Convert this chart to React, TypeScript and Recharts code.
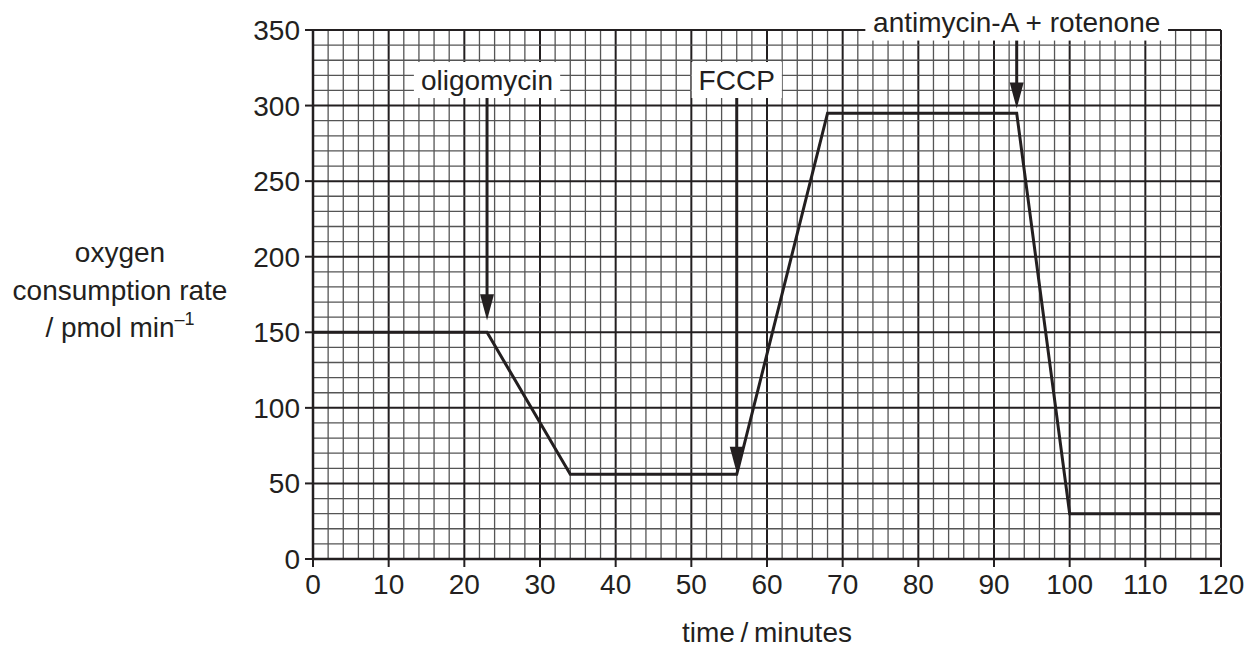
import React from "react";
import { LineChart, Line, XAxis, YAxis, ReferenceLine } from "recharts";

// trace
const time = [0, 23, 34, 56, 68, 93, 100, 120];
const rate = [150, 150, 56, 56, 295, 295, 30, 30];

const xTicks = [0, 10, 20, 30, 40, 50, 60, 70, 80, 90, 100, 110, 120];
const yTicks = [0, 50, 100, 150, 200, 250, 300, 350];

// injections (arrows)
const arrowLabels = ["oligomycin", "FCCP", "antimycin-A + rotenone"];
const arrowTimes = [23, 56, 93];
const arrowFrom = [305, 305, 343];
const arrowTo = [158, 57, 298];

const FONT = "'Liberation Sans', Arial, sans-serif";
const FS = 28;
const INK = "#231f20";

const data = time.map((t, i) => ({ t, rate: rate[i] }));
const minorX = Array.from({ length: 61 }, (_, i) => i * 2);
const minorY = Array.from({ length: 36 }, (_, i) => i * 10);

let ctx: CanvasRenderingContext2D | null = null;
function textWidth(s: string) {
  if (!ctx) ctx = document.createElement("canvas").getContext("2d");
  if (!ctx) return s.length * FS * 0.55;
  ctx.font = `${FS}px 'Liberation Sans', Arial, sans-serif`;
  return ctx.measureText(s).width;
}

const arrowShape = (label: string) => (props: any) => {
  const { x1, y1, y2 } = props;
  const w = textWidth(label) + 14;
  return (
    <g>
      <rect x={x1 - w / 2} y={y1 - 36} width={w} height={36} fill="#fff" />
      <text x={x1} y={y1 - 18} dy="0.35em" textAnchor="middle" fontSize={FS} fontFamily={FONT} fill={INK}>
        {label}
      </text>
      <line x1={x1} y1={y1} x2={x1} y2={y2 - 20} stroke={INK} strokeWidth={3} />
      <polygon points={`${x1 - 7},${y2 - 26} ${x1 + 7},${y2 - 26} ${x1},${y2}`} fill={INK} />
    </g>
  );
};

const YTitle = (props: any) => {
  const vb = props.viewBox || { y: 30, height: 529 };
  const cy = vb.y + vb.height / 2;
  const cx = 120;
  return (
    <text textAnchor="middle" fontSize={FS} fontFamily={FONT} fill={INK}>
      <tspan x={cx} y={cy - 42} dy="0.35em">oxygen</tspan>
      <tspan x={cx} y={cy - 4} dy="0.35em">consumption rate</tspan>
      <tspan x={cx} y={cy + 33} dy="0.35em">/ pmol min</tspan>
      <tspan dy={-12} fontSize={18}>–1</tspan>
    </text>
  );
};

const XTitle = (props: any) => {
  const vb = props.viewBox || { x: 313, width: 908 };
  return (
    <text x={vb.x + vb.width / 2} y={632} dy="0.35em" textAnchor="middle" fontSize={FS} fontFamily={FONT} fill={INK}>
      time{"\u2009"}/{"\u2009"}minutes
    </text>
  );
};

export default function App() {
  return (
    <div style={{ position: "absolute", left: 0, top: 0, background: "#fff", fontFamily: FONT }}>
      <LineChart width={1256} height={648} data={data} margin={{ top: 30, right: 35, bottom: 29, left: 233 }}>
        {minorX.map((v) => (
          <ReferenceLine
            key={"gx" + v}
            x={v}
            stroke={v % 10 === 0 ? INK : "#555"}
            strokeWidth={v % 10 === 0 ? 2 : 1.3}
          />
        ))}
        {minorY.map((v) => (
          <ReferenceLine
            key={"gy" + v}
            y={v}
            stroke={v % 50 === 0 ? INK : "#555"}
            strokeWidth={v % 50 === 0 ? 2 : 1.3}
          />
        ))}
        <XAxis
          dataKey="t"
          type="number"
          domain={[0, 120]}
          ticks={xTicks}
          interval={0}
          height={60}
          tickSize={8}
          tickMargin={7}
          axisLine={{ stroke: INK, strokeWidth: 2.5 }}
          tickLine={{ stroke: INK, strokeWidth: 2 }}
          tick={{ fontSize: FS, fill: INK, fontFamily: FONT }}
          label={<XTitle />}
        />
        <YAxis
          type="number"
          domain={[0, 350]}
          ticks={yTicks}
          interval={0}
          width={80}
          tickSize={8}
          tickMargin={5}
          axisLine={{ stroke: INK, strokeWidth: 2.5 }}
          tickLine={{ stroke: INK, strokeWidth: 2 }}
          tick={{ fontSize: FS, fill: INK, fontFamily: FONT }}
          label={<YTitle />}
        />
        <Line
          type="linear"
          dataKey="rate"
          stroke={INK}
          strokeWidth={3}
          dot={false}
          isAnimationActive={false}
        />
        {arrowLabels.map((label, i) => (
          <ReferenceLine
            key={label}
            segment={[
              { x: arrowTimes[i], y: arrowFrom[i] },
              { x: arrowTimes[i], y: arrowTo[i] },
            ]}
            ifOverflow="visible"
            shape={arrowShape(label)}
          />
        ))}
      </LineChart>
    </div>
  );
}
